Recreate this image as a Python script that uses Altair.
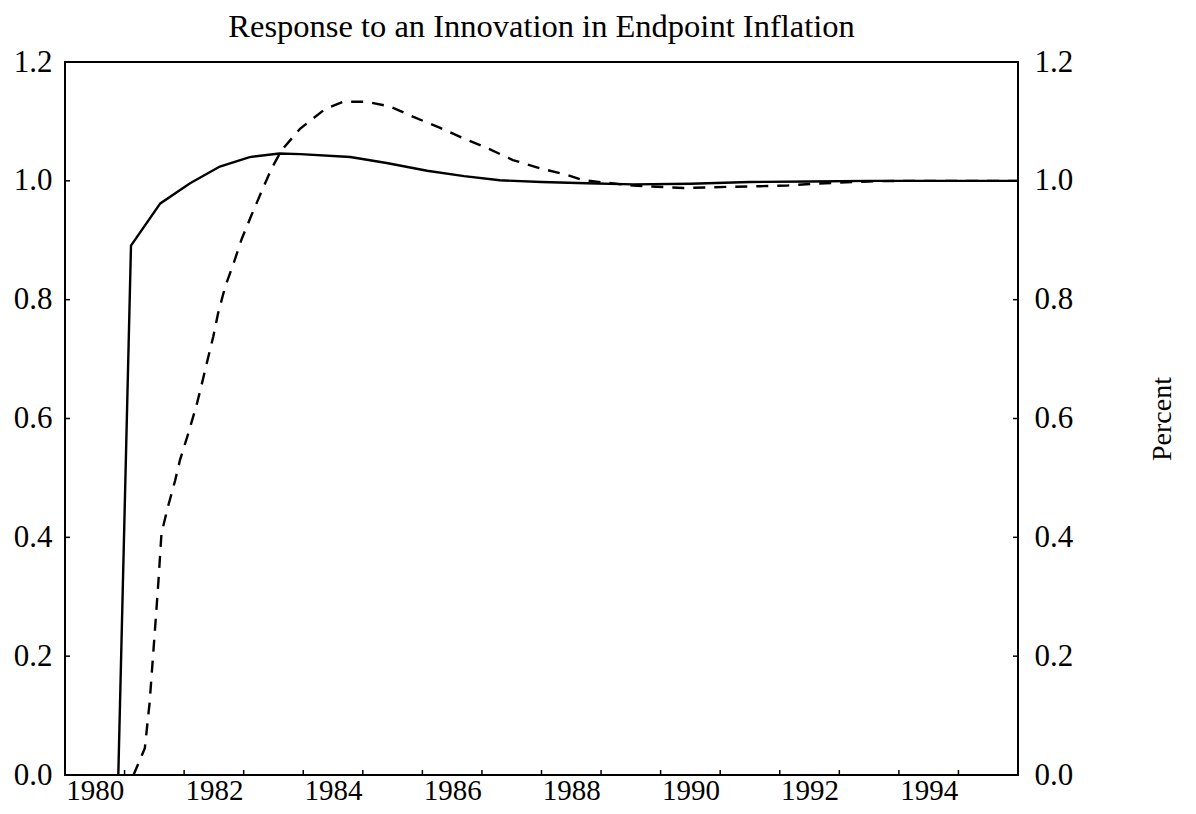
import altair as alt
import pandas as pd

# ---- data ----
solid_year = [1980.395, 1980.608, 1981.10, 1981.60, 1982.10, 1982.60, 1983.10, 1983.45,
              1984.29, 1984.90, 1985.58, 1986.20, 1986.80, 1987.50, 1988.26, 1989.04,
              1990.00, 1991.00, 1992.00, 1993.00, 1994.00, 1995.50]
solid_val = [0.0, 0.891, 0.962, 0.996, 1.024, 1.040, 1.046, 1.045,
             1.040, 1.030, 1.017, 1.008, 1.001, 0.998, 0.996, 0.994,
             0.995, 0.998, 0.999, 1.000, 1.000, 1.000]

dash_year = [1980.65, 1980.84, 1980.92, 1981.01, 1981.07, 1981.12, 1981.23, 1981.35,
             1981.43, 1981.57, 1981.71, 1981.78, 1981.88, 1981.99, 1982.07, 1982.19,
             1982.33, 1982.47, 1982.63, 1982.80, 1982.97, 1983.14, 1983.45, 1983.87,
             1984.17, 1984.57, 1984.96, 1985.34, 1985.80, 1986.18, 1986.59, 1987.02,
             1987.48, 1987.93, 1988.20, 1989.04, 1989.88, 1990.70, 1991.17, 1991.62,
             1992.06, 1992.51, 1993.00, 1993.50, 1995.50]
dash_val = [0.0, 0.045, 0.121, 0.244, 0.328, 0.407, 0.452, 0.496,
            0.530, 0.575, 0.623, 0.651, 0.693, 0.738, 0.777, 0.822,
            0.861, 0.903, 0.942, 0.982, 1.021, 1.052, 1.088, 1.121,
            1.133, 1.133, 1.125, 1.108, 1.089, 1.072, 1.055, 1.035,
            1.021, 1.010, 1.001, 0.992, 0.988, 0.990, 0.991, 0.992,
            0.995, 0.997, 0.999, 1.000, 1.000]

x_label_years = [1980, 1982, 1984, 1986, 1988, 1990, 1992, 1994]
x_tick_years = [1980.5, 1981.5, 1982.5, 1983.5, 1984.5, 1985.5, 1986.5, 1987.5,
                1988.5, 1989.5, 1990.5, 1991.5, 1992.5, 1993.5, 1994.5]
y_label_values = [0.0, 0.2, 0.4, 0.6, 0.8, 1.0, 1.2]
y_tick_values = [0.2, 0.4, 0.6, 0.8, 1.0]

title_text = "Response to an Innovation in Endpoint Inflation"
right_title = "Percent"

# ---- layout ----
W, H = 953, 713
FONT = "Liberation Serif"
TICK = 5

solid_df = pd.DataFrame({"year": solid_year, "value": solid_val})
dash_df = pd.DataFrame({"year": dash_year, "value": dash_val})
xt_df = pd.DataFrame({"year": x_tick_years})
yt_df = pd.DataFrame({"value": y_tick_values})

xscale = alt.Scale(domain=[1979.5, 1995.5], nice=False, zero=False)
yscale = alt.Scale(domain=[0, 1.2], nice=False, zero=False)

x_axis = alt.Axis(values=x_label_years, format="d", title=None, ticks=False, tickSize=0,
                  domain=False, grid=False, labelPadding=1, labelFont=FONT,
                  labelFontSize=29, labelColor="black", labelFlush=False,
                  labelOverlap=False, orient="bottom")
y_left = alt.Axis(values=y_label_values, format=".1f", title=None, ticks=False, tickSize=0,
                  domain=False, grid=False, labelPadding=13, labelFont=FONT,
                  labelFontSize=31, labelColor="black", orient="left")
y_right = alt.Axis(values=y_label_values, format=".1f", title=right_title, ticks=False,
                   tickSize=0, domain=False, grid=False, labelPadding=16, labelFont=FONT,
                   labelFontSize=31, labelColor="black", orient="right",
                   titleFont=FONT, titleFontSize=28, titleFontWeight="normal",
                   titleColor="black", titleAngle=270, titleX=144, titleY=H / 2,
                   titleAlign="center", titleBaseline="middle")

X = alt.X("year:Q", scale=xscale, axis=x_axis)

solid = alt.Chart(solid_df).mark_line(color="black", strokeWidth=2.4).encode(
    x=X,
    y=alt.Y("value:Q", scale=yscale, axis=y_left),
)
dashed = alt.Chart(dash_df).mark_line(color="black", strokeWidth=2.4,
                                      strokeDash=[12, 9]).encode(
    x=X,
    y=alt.Y("value:Q", scale=yscale, axis=y_right),
)
xticks = alt.Chart(xt_df).mark_rule(color="black", strokeWidth=1.5).encode(
    x=X,
    y=alt.value(H), y2=alt.value(H - TICK),
)
yticks_l = alt.Chart(yt_df).mark_rule(color="black", strokeWidth=1.5).encode(
    y=alt.Y("value:Q", scale=yscale, axis=None),
    x=alt.value(0), x2=alt.value(TICK),
)
yticks_r = alt.Chart(yt_df).mark_rule(color="black", strokeWidth=1.5).encode(
    y=alt.Y("value:Q", scale=yscale, axis=None),
    x=alt.value(W - TICK), x2=alt.value(W),
)

chart = alt.layer(solid, dashed, xticks, yticks_l, yticks_r).resolve_axis(
    y="independent"
).properties(
    width=W, height=H,
    background="white",
    title=alt.TitleParams(text=title_text, font=FONT, fontSize=32.5, fontWeight="normal",
                          color="black", anchor="middle", frame="group", offset=3),
    autosize=alt.AutoSizeParams(type="none"),
    padding={"left": 57, "top": 54, "right": 170, "bottom": 31},
).configure_view(
    stroke="black", strokeWidth=2
)

chart.save("out.html", embed_options={"renderer": "svg", "actions": False})
